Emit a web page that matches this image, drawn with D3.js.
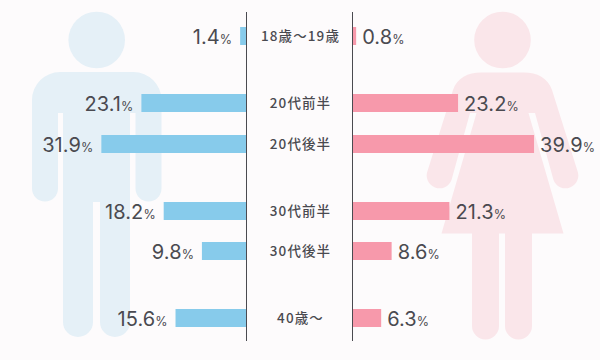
<!DOCTYPE html>
<html>
<head>
<meta charset="utf-8">
<script src="https://cdn.jsdelivr.net/npm/d3@7"></script>
<style>
  html, body { margin: 0; padding: 0; background: #fdfbfc; }
  svg { display: block; }
  .value { font-family: Inter, sans-serif; font-size: 20px; letter-spacing: 0.1px; fill: #4a4a50; }
  .value .unit { font-size: 12.5px; letter-spacing: 0; }
  .age { font-family: "Noto Sans CJK JP", sans-serif; font-size: 13.5px; font-weight: 500; fill: #4a4a50; letter-spacing: 1.1px; text-anchor: middle; }
</style>
</head>
<body>
<div id="chart"></div>
<script>
const ageGroups = ["18歳〜19歳", "20代前半", "20代後半", "30代前半", "30代後半", "40歳〜"];
const ageBlocks = [0, 1, 1, 2, 2, 3];
const maleValues = [1.4, 23.1, 31.9, 18.2, 9.8, 15.6];
const femaleValues = [0.8, 23.2, 39.9, 21.3, 8.6, 6.3];

const width = 600, height = 360;
const axisLeft = 246.5, axisRight = 352.5;
const barHeight = 18;
const rowStep = 40.45, blockGap = 26.35;

const svg = d3.select("#chart")
  .append("svg")
  .attr("width", width)
  .attr("height", height);

// pictograms behind the bars
const male = svg.append("g").attr("fill", "#e5f0f7");
male.append("circle").attr("cx", 96.7).attr("cy", 40).attr("r", 28.3);
male.append("path").attr("d",
  "M60,72 H133.5 A28,28 0 0 1 161.5,100 V188.5 A13,13 0 0 1 135.5,188.5 V113 H130 V322 A15,15 0 0 1 100,322 V202 H93 V322 A15,15 0 0 1 63,322 V113 H58 V188.5 A13,13 0 0 1 32,188.5 V100 A28,28 0 0 1 60,72 Z");

const female = svg.append("g").attr("fill", "#fae6ea");
female.append("circle").attr("cx", 502.5).attr("cy", 40).attr("r", 28.3);
female.append("path").attr("d",
  "M481,72.5 H524 C537,72.5 548,78 552,90 L577.5,171 A12.5,12.5 0 0 1 553.5,180 L535,113 H528.5 L563.5,233.5 H532 V326 A13.5,13.5 0 0 1 505,326 V233.5 H499 V326 A13.5,13.5 0 0 1 472,326 V233.5 H441.5 L476.5,113 H470 L451.5,180 A12.5,12.5 0 0 1 427.5,171 L453,90 C457,78 468,72.5 481,72.5 Z");

const xLeft = d3.scaleLinear().domain([0, 40]).range([axisLeft, axisLeft - 182]);
const xRight = d3.scaleLinear().domain([0, 40]).range([axisRight, axisRight + 182]);

const y = d3.scaleLinear().domain([0, 1]).range([36, 36 + rowStep]);
const rowY = i => y(i + ageBlocks[i] * blockGap / rowStep);
const barTop = i => Math.ceil(rowY(i) - barHeight / 2);
const rows = ageGroups.map((name, i) => ({ name, i, male: maleValues[i], female: femaleValues[i] }));

svg.selectAll(".bar-male")
  .data(rows)
  .enter().append("rect")
  .attr("class", "bar-male")
  .attr("x", d => xLeft(d.male))
  .attr("y", d => barTop(d.i))
  .attr("width", d => axisLeft - xLeft(d.male))
  .attr("height", barHeight)
  .attr("fill", "#87cbeb");

svg.selectAll(".bar-female")
  .data(rows)
  .enter().append("rect")
  .attr("class", "bar-female")
  .attr("x", axisRight)
  .attr("y", d => barTop(d.i))
  .attr("width", d => xRight(d.female) - axisRight)
  .attr("height", barHeight)
  .attr("fill", "#f799ab");

// the two centre lines
[axisLeft, axisRight].forEach(x => {
  svg.append("line")
    .attr("x1", x).attr("x2", x)
    .attr("y1", 12).attr("y2", 341)
    .attr("stroke", "#4a4a50");
});

function addValue(sel) {
  sel.append("tspan").text(d => d.text);
  sel.append("tspan").attr("class", "unit").text("%");
}

svg.selectAll(".value-male")
  .data(rows.map(d => ({ i: d.i, text: d.male.toFixed(1), v: d.male })))
  .enter().append("text")
  .attr("class", "value value-male")
  .attr("text-anchor", "end")
  .attr("x", d => xLeft(d.v) - 8)
  .attr("y", d => barTop(d.i) + 17)
  .call(addValue);

svg.selectAll(".value-female")
  .data(rows.map(d => ({ i: d.i, text: d.female.toFixed(1), v: d.female })))
  .enter().append("text")
  .attr("class", "value value-female")
  .attr("x", d => xRight(d.v) + 6)
  .attr("y", d => barTop(d.i) + 17)
  .call(addValue);

svg.selectAll(".age")
  .data(rows)
  .enter().append("text")
  .attr("class", "age")
  .attr("x", 300.5)
  .attr("y", d => barTop(d.i) + 14)
  .text(d => d.name);
</script>
</body>
</html>
